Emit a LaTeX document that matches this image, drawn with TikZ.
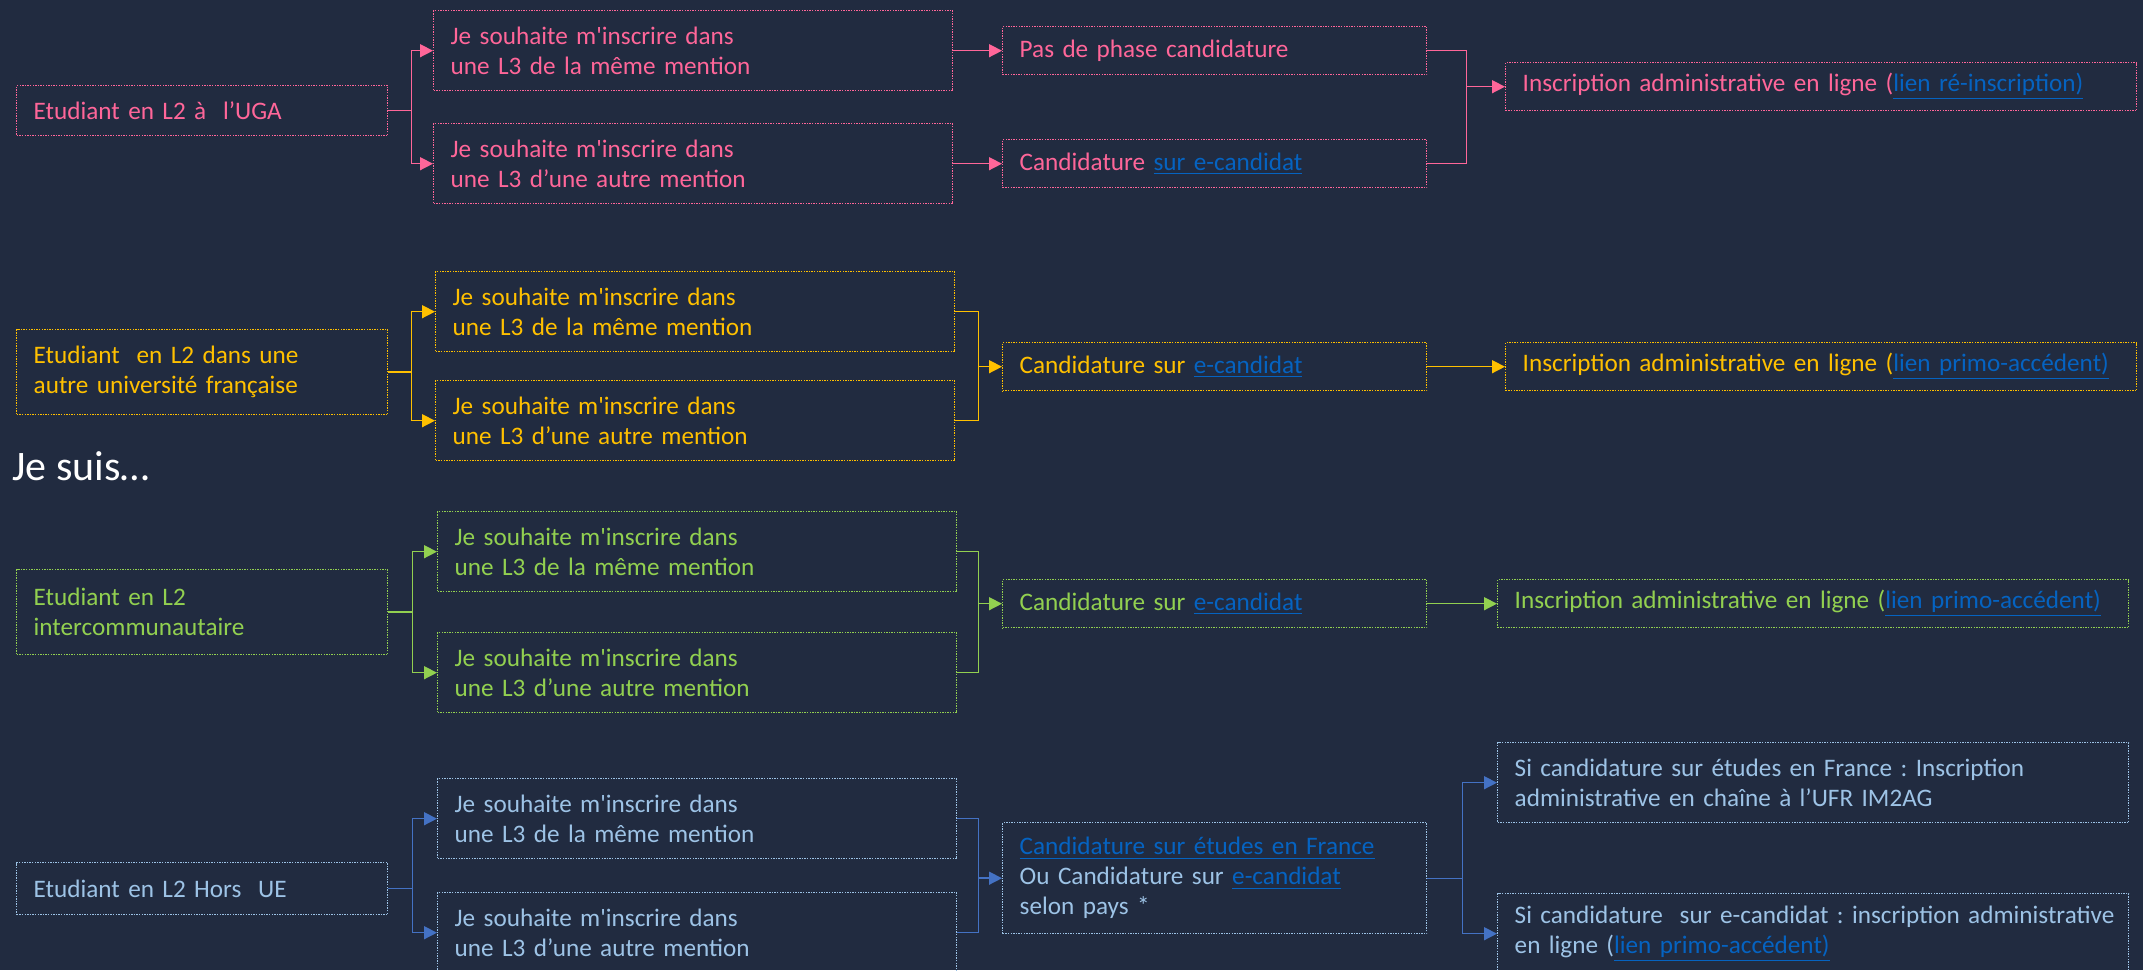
\documentclass[tikz,border=0pt]{standalone}
\usepackage{fontspec}
\setmainfont{Carlito}
\usetikzlibrary{arrows.meta,positioning}
\definecolor{fond}{HTML}{212B40}
\definecolor{rose}{HTML}{FF6699}
\definecolor{jaune}{HTML}{FFC000}
\definecolor{vert}{HTML}{92D050}
\definecolor{bleu}{HTML}{4472C4}
\definecolor{bleuclair}{HTML}{9DC3E6}
\definecolor{lienc}{HTML}{0563C1}
\newcommand{\lien}[1]{\textcolor{lienc}{\underline{#1}}}
\newcommand{\apos}{\textquotesingle}
\frenchspacing

\begin{document}
\begin{tikzpicture}[x=0.5pt,y=-0.5pt,
    boite/.style={draw, dash pattern=on 0.7pt off 0.6pt, line width=0.7pt, anchor=north west,
      align=left, inner xsep=8.5pt, inner ysep=0pt, font=\fontsize{12.6}{15}\selectfont},
    etud/.style={boite, text width=168.5pt},
    choix/.style={boite, text width=242.5pt, minimum height=40pt},
    cand/.style={boite, text width=195pt, minimum height=24pt},
    inscr/.style={boite, text width=298.5pt, minimum height=24pt},
    fl/.style={line width=0.75pt, -{Triangle[length=6.5pt,width=6.5pt]}}]
  \useasboundingbox (0,0) rectangle (2143,970);
  \fill[fond] (0,0) rectangle (2143,970);

  \node[anchor=base west, inner sep=0pt, text=white, font=\fontsize{21}{25}\selectfont] (jesuis) at (12,480) {Je suis…};

  % UGA
  \begin{scope}[color=rose]
    \node[etud, minimum height=25pt] (A1) at (16,85) {Etudiant en L2 à\ \ l’UGA};
    \node[choix] (B1) at (433,10) {Je souhaite m\apos inscrire dans\\une L3 de la même mention};
    \node[choix] (C1) at (433,123) {Je souhaite m\apos inscrire dans\\une L3 d’une autre mention};
    \node[cand] (D1) at (1002,26) {Pas de phase candidature};
    \node[cand] (E1) at (1002,139) {Candidature \lien{sur e-candidat}};
    \node[inscr] (F1) at (1505,62) {Inscription administrative en ligne (\lien{lien ré-inscription)}};
    \draw[fl] (A1.east) -- ++(23,0) coordinate (s1) |- (B1.west);
    \draw[fl] (s1) |- (C1.west);
    \draw[fl] (B1.east) -- (B1.east -| D1.west);
    \draw[fl] (C1.east) -- (D1.west |- C1.east);
    \draw (D1.east) -- ++(39,0) coordinate (k1) |- (E1.east);
    \draw[fl] (k1 |- F1.west) -- (F1.west);
  \end{scope}

  % autre universite
  \begin{scope}[color=jaune]
    \node[etud, minimum height=42.5pt] (A2) at (16,329) {Etudiant\ \ en L2 dans une\\autre université française};
    \node[choix] (B2) at (435,271) {Je souhaite m\apos inscrire dans\\une L3 de la même mention};
    \node[choix] (C2) at (435,380) {Je souhaite m\apos inscrire dans\\une L3 d’une autre mention};
    \node[cand] (D2) at (1002,342) {Candidature sur \lien{e-candidat}};
    \node[inscr] (E2) at (1505,342) {Inscription administrative en ligne (\lien{lien primo-accédent)}};
    \draw[fl] (A2.east) -- ++(23,0) coordinate (s2) |- (B2.west);
    \draw[fl] (s2) |- (C2.west);
    \draw (B2.east) -- ++(23,0) coordinate (k2) |- (C2.east);
    \draw[fl] (k2 |- D2.west) -- (D2.west);
    \draw[fl] (D2.east) -- (E2.west);
  \end{scope}

  % intercommunautaire
  \begin{scope}[color=vert]
    \node[etud, minimum height=42.5pt] (A3) at (16,569) {Etudiant en L2\\intercommunautaire};
    \node[choix] (B3) at (437,511) {Je souhaite m\apos inscrire dans\\une L3 de la même mention};
    \node[choix] (C3) at (437,632) {Je souhaite m\apos inscrire dans\\une L3 d’une autre mention};
    \node[cand] (D3) at (1002,579) {Candidature sur \lien{e-candidat}};
    \node[inscr] (E3) at (1497,579) {Inscription administrative en ligne (\lien{lien primo-accédent)}};
    \draw[fl] (A3.east) -- ++(24,0) coordinate (s3) |- (B3.west);
    \draw[fl] (s3) |- (C3.west);
    \draw (B3.east) -- ++(21,0) coordinate (k3) |- (C3.east);
    \draw[fl] (k3 |- D3.west) -- (D3.west);
    \draw[fl] (D3.east) -- (E3.west);
  \end{scope}

  % hors UE
  \begin{scope}[color=bleu]
    \node[etud, minimum height=26pt, draw=bleuclair, text=bleuclair] (A4) at (16,862) {Etudiant en L2 Hors\ \ UE};
    \node[choix, draw=bleuclair, text=bleuclair] (B4) at (437,778) {Je souhaite m\apos inscrire dans\\une L3 de la même mention};
    \node[choix, draw=bleuclair, text=bleuclair] (C4) at (437,892) {Je souhaite m\apos inscrire dans\\une L3 d’une autre mention};
    \node[cand, minimum height=55.5pt, draw=bleuclair, text=bleuclair] (D4) at (1002,822)
      {\lien{Candidature sur études en France}\\Ou Candidature sur \lien{e-candidat}\\selon pays *};
    \node[inscr, minimum height=40pt, draw=bleuclair, text=bleuclair] (E4) at (1497,742)
      {\mbox{Si candidature sur études en France : Inscription}\\administrative en chaîne à l’UFR IM2AG};
    \node[inscr, minimum height=40pt, draw=bleuclair, text=bleuclair] (F4) at (1497,893)
      {\mbox{Si candidature\ \ sur e-candidat : inscription administrative}\\en ligne (\lien{lien primo-accédent)}};
    \draw[fl] (A4.east) -- ++(24,0) coordinate (s4) |- (B4.west);
    \draw[fl] (s4) |- (C4.west);
    \draw (B4.east) -- ++(21,0) coordinate (k4) |- (C4.east);
    \draw[fl] (k4 |- D4.west) -- (D4.west);
    \draw (D4.east) -- ++(35,0) coordinate (m4);
    \draw[fl] (m4) |- (E4.west);
    \draw[fl] (m4) |- (F4.west);
  \end{scope}
\end{tikzpicture}
\end{document}
